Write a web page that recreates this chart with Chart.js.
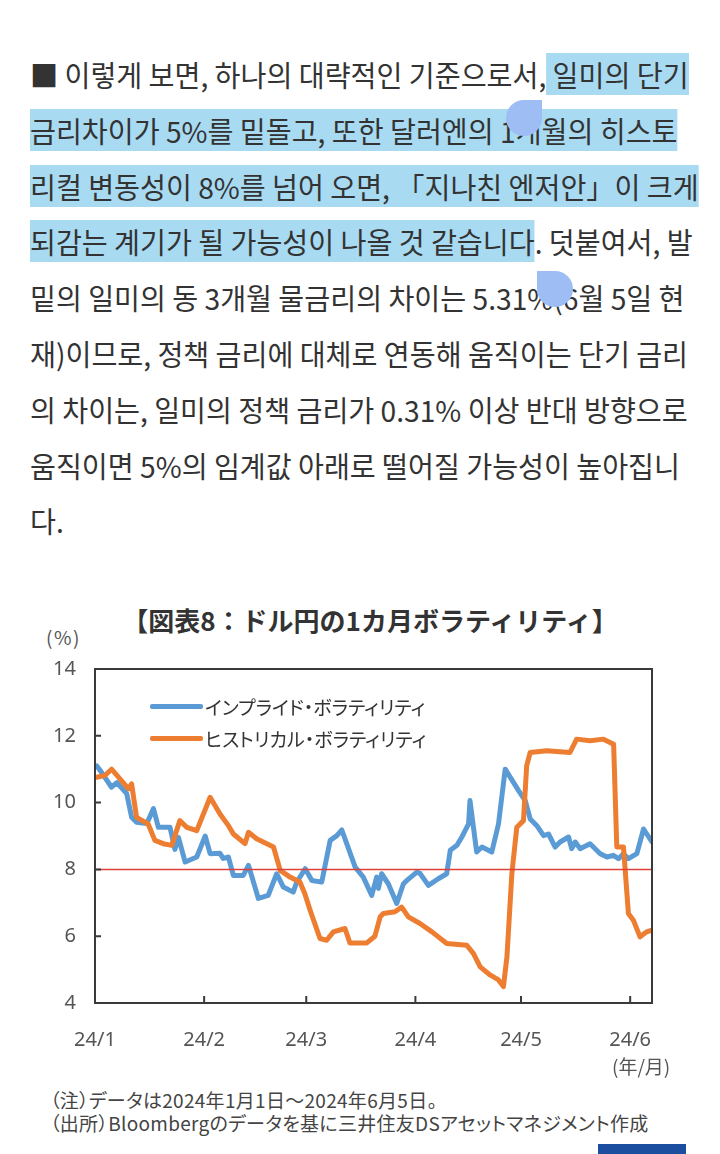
<!DOCTYPE html>
<html>
<head>
<meta charset="utf-8">
<script src="https://cdn.jsdelivr.net/npm/chart.js@4.4.1/dist/chart.umd.min.js"></script>
<style>
  html,body{margin:0;padding:0;background:#fff;}
  body{width:720px;height:1154px;position:relative;overflow:hidden;}
  #article{position:absolute;left:30px;top:47px;font-family:"Noto Sans CJK KR","Noto Sans",sans-serif;font-size:29px;color:#333;}
  .ln{height:55.8px;line-height:55.8px;white-space:nowrap;transform-origin:0 0;}
  .ln span.t{display:inline-block;}
  .hl{background:#a8dbf2;}
  .handle{position:absolute;width:36px;height:36px;background:#9dbdf4;}
  .jp{position:absolute;font-family:"Noto Sans CJK JP",sans-serif;color:#444;white-space:nowrap;font-feature-settings:"palt";}
  #title{left:0;width:740px;text-align:center;top:601px;font-size:26px;font-weight:700;color:#333;font-feature-settings:normal;}
  .lg{position:absolute;height:5px;width:53px;left:150px;border-radius:2px;}
  #chartbox{position:absolute;left:0;top:638px;width:720px;height:432px;}
</style>
</head>
<body>
<div id="article">
  <div class="ln"><span class="t">■ 이렇게 보면, 하나의 대략적인 기준으로서,<span class="hl"> 일미의 단기 </span></span></div>
  <div class="ln"><span class="t"><span class="hl">금리차이가 5%를 밑돌고, 또한 달러엔의 1개월의 히스토 </span></span></div>
  <div class="ln"><span class="t"><span class="hl">리컬 변동성이 8%를 넘어 오면, 「지나친 엔저안」이 크게 </span></span></div>
  <div class="ln"><span class="t"><span class="hl">되감는 계기가 될 가능성이 나올 것 같습니다</span>. 덧붙여서, 발</span></div>
  <div class="ln"><span class="t">밑의 일미의 동 3개월 물금리의 차이는 5.31%(6월 5일 현</span></div>
  <div class="ln"><span class="t" id="ref6">재)이므로, 정책 금리에 대체로 연동해 움직이는 단기 금리</span></div>
  <div class="ln"><span class="t">의 차이는, 일미의 정책 금리가 0.31% 이상 반대 방향으로</span></div>
  <div class="ln"><span class="t">움직이면 5%의 임계값 아래로 떨어질 가능성이 높아집니</span></div>
  <div class="ln"><span class="t">다.</span></div>
</div>
<div class="handle" style="left:506px;top:100px;border-radius:50% 0 50% 50%;"></div>
<div class="handle" style="left:537px;top:271px;border-radius:0 50% 50% 50%;"></div>

<div id="title" class="jp">【図表8：ドル円の1カ月ボラティリティ】</div>
<div class="jp" style="left:46px;top:623px;font-size:19px;letter-spacing:1.5px;color:#555;">(%)</div>

<div id="chartbox"><canvas id="c" width="720" height="432"></canvas></div>

<div class="lg" style="top:704px;background:#5b9bd5;"></div>
<div class="jp" id="lg1" style="left:205px;top:693px;font-size:19px;color:#333;"></div>
<div class="lg" style="top:736px;background:#ed7d31;"></div>
<div class="jp" id="lg2" style="left:205px;top:725px;font-size:19px;color:#333;"></div>

<div class="jp" style="left:612px;top:1052px;font-size:19px;color:#555;">(年/月)</div>
<div class="jp" style="left:50px;top:1088px;font-size:19px;line-height:23px;letter-spacing:0.3px;">（注）データは2024年1月1日～2024年6月5日。<br>（出所）Bloombergのデータを基に三井住友DSアセットマネジメント作成</div>
<div style="position:absolute;left:598px;top:1144px;width:88px;height:10px;background:#1c4ea0;"></div>

<script>
// ---- data ----
const seriesNames = ['インプライド・ボラティリティ', 'ヒストリカル・ボラティリティ'];
const tickDays = [0, 31, 60, 91, 121, 152];
const tickLabels = ['24/1', '24/2', '24/3', '24/4', '24/5', '24/6'];
const implDays = [0.5,1.9,4.7,6.2,9.0,10.4,11.8,14.7,16.6,18.0,21.3,22.7,23.7,25.6,28.9,31.3,32.7,35.5,36.4,37.9,39.3,42.1,43.6,46.4,49.2,51.6,53.5,56.3,57.3,59.7,61.6,64.4,66.8,68.7,70.1,73.9,76.2,78.6,80.0,80.5,81.4,83.3,85.7,87.6,88.6,91.4,92.3,94.7,97.5,99.9,100.9,102.8,104.2,106.1,106.5,108.4,109.9,112.7,114.6,116.5,120.3,122.2,123.6,125.5,127.4,128.8,130.7,132.1,134.5,135.4,136.4,137.8,140.6,143.5,145.4,147.2,148.7,150.1,151.5,153.9,155.8,158.2];
const implVals = [11.1,10.9,10.46,10.6,10.27,9.56,9.41,9.37,9.82,9.26,9.26,8.6,8.96,8.22,8.37,9.0,8.47,8.48,8.33,8.37,7.82,7.82,8.12,7.13,7.22,7.87,7.47,7.32,7.62,8.02,7.67,7.62,8.87,9.01,9.18,8.07,7.77,7.22,7.77,7.43,7.87,7.57,6.98,7.57,7.67,7.92,7.88,7.52,7.72,7.87,8.57,8.72,8.97,9.36,10.06,8.52,8.67,8.52,9.36,11.0,10.36,10.06,9.51,9.31,9.01,9.06,8.67,8.82,8.97,8.62,8.82,8.62,8.77,8.47,8.37,8.42,8.32,8.47,8.32,8.47,9.21,8.82];
const histDays = [0.5,2.8,4.7,7.1,9.5,10.4,11.8,15.1,17.0,19.4,21.8,24.1,26.1,28.9,32.7,35.5,37.9,39.3,42.6,43.6,45.9,48.8,50.7,52.6,55.4,58.2,59.6,61.1,63.9,65.8,67.7,71.0,72.4,77.2,79.5,81.0,81.9,85.2,87.1,89.0,92.3,95.7,99.9,105.6,107.5,109.4,112.2,114.6,116.0,117.0,118.4,119.8,121.7,122.6,123.6,128.3,134.9,136.8,140.6,144.4,147.3,148.2,150.1,151.5,152.9,154.8,156.7,158.2];
const histVals = [10.76,10.81,11.0,10.71,10.41,10.56,9.56,9.36,8.87,8.77,8.72,9.46,9.26,9.16,10.16,9.66,9.31,9.06,8.77,9.11,8.92,8.77,8.67,7.97,7.77,7.62,7.27,6.78,5.93,5.88,6.13,6.23,5.80,5.80,6.0,6.58,6.68,6.73,6.87,6.58,6.38,6.13,5.78,5.73,5.48,5.08,4.84,4.69,4.49,5.38,7.87,9.26,9.46,11.1,11.5,11.55,11.5,11.9,11.85,11.9,11.75,8.67,8.67,6.68,6.48,5.98,6.13,6.18];
const refDays = [0, 158.2];
const refVals = [8, 8];

// legend text
document.getElementById('lg1').textContent = seriesNames[0];
document.getElementById('lg2').textContent = seriesNames[1];

// article text condensing
(function(){
  const w = document.getElementById('ref6').getBoundingClientRect().width;
  const s = 658 / w;
  document.querySelectorAll('.ln').forEach(d => d.style.transform = 'scaleX(' + s + ')');
})();

const toPts = (xs, ys) => xs.map((x, i) => ({x: x, y: ys[i]}));

const frame = {
  id: 'frame',
  afterDatasetsDraw(chart) {
    const {ctx, chartArea: a, scales} = chart;
    ctx.save();
    ctx.strokeStyle = '#3a3a3a';
    ctx.lineWidth = 2;
    ctx.strokeRect(a.left, a.top, a.right - a.left, a.bottom - a.top);
    ctx.beginPath();
    scales.y.ticks.forEach(t => {
      const y = scales.y.getPixelForValue(t.value);
      ctx.moveTo(a.left, y); ctx.lineTo(a.left + 6, y);
    });
    tickDays.forEach(d => {
      const x = scales.x.getPixelForValue(d);
      ctx.moveTo(x, a.bottom); ctx.lineTo(x, a.bottom - 7);
    });
    ctx.stroke();
    ctx.restore();
  }
};

new Chart(document.getElementById('c'), {
  type: 'line',
  data: {
    datasets: [
      {label: 'ref', data: toPts(refDays, refVals), borderColor: '#e0403a', borderWidth: 1.5, pointRadius: 0, order: 0},
      {label: seriesNames[1], data: toPts(histDays, histVals), borderColor: '#ed7d31', borderWidth: 5, pointRadius: 0, borderJoinStyle: 'round', borderCapStyle: 'round', order: 1},
      {label: seriesNames[0], data: toPts(implDays, implVals), borderColor: '#5b9bd5', borderWidth: 5, pointRadius: 0, borderJoinStyle: 'round', borderCapStyle: 'round', order: 2}
    ]
  },
  options: {
    responsive: false,
    animation: false,
    events: [],
    layout: {padding: {left: 0, right: 68, top: 18, bottom: 0}},
    plugins: {legend: {display: false}, tooltip: {enabled: false}, title: {display: false}},
    scales: {
      x: {
        type: 'linear', min: 0, max: 158.2,
        afterBuildTicks: s => { s.ticks = tickDays.map(v => ({value: v})); },
        afterFit: s => { s.height = 67; },
        grid: {display: false, drawTicks: false},
        border: {display: false},
        ticks: {
          autoSkip: false, maxRotation: 0, padding: 25,
          color: '#555', font: {family: 'Noto Sans', size: 20},
          callback: v => tickLabels[tickDays.indexOf(v)]
        }
      },
      y: {
        min: 4, max: 14,
        afterFit: s => { s.width = 95; },
        grid: {display: false, drawTicks: false},
        border: {display: false},
        ticks: {stepSize: 2, padding: 19, color: '#555', font: {family: 'Noto Sans', size: 20}}
      }
    }
  },
  plugins: [frame]
});
</script>
</body>
</html>
